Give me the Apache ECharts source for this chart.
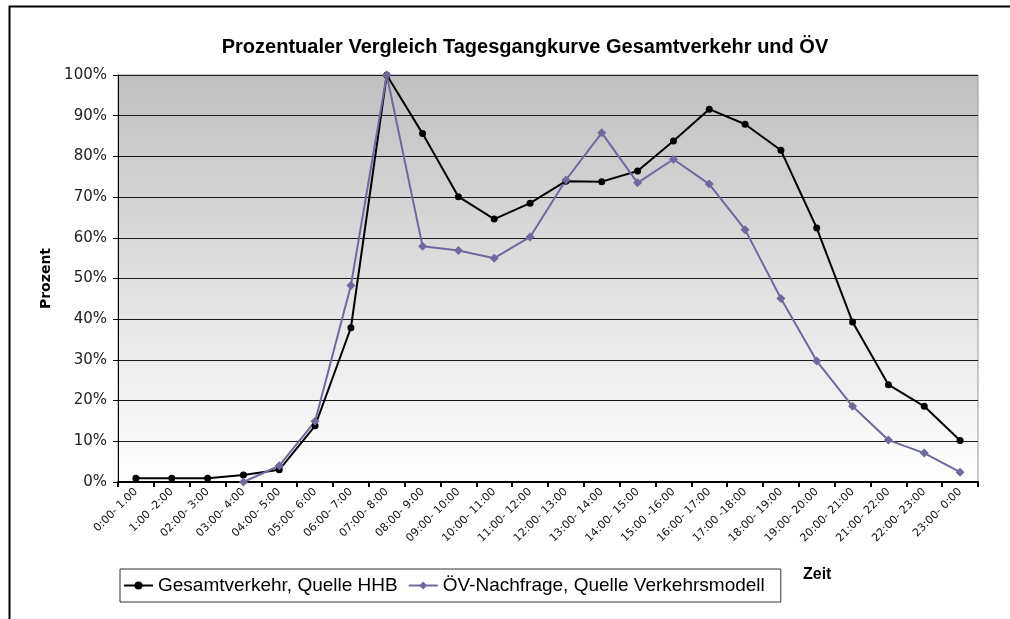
<!DOCTYPE html>
<html>
<head>
<meta charset="UTF-8">
<title>Tagesgangkurve</title>
<script src="https://cdn.jsdelivr.net/npm/echarts@6/dist/echarts.min.js"></script>
</head>
<body style="margin:0;background:#fff;">
	<div id="main" style="width:1010px;height:619px;"></div>
	<script type="text/javascript">
		// Zeitintervalle (Beschriftung wie im Original)
		var zeiten = ['0:00- 1.00','1:00 -2:00','02:00- 3:00','03:00- 4:00','04:00- 5:00','05:00- 6:00',
			'06:00- 7:00','07:00- 8:00','08:00- 9:00','09:00- 10:00','10:00- 11:00','11:00- 12:00',
			'12:00- 13:00','13:00- 14:00','14:00- 15:00','15:00 -16:00','16:00- 17:00','17:00 -18:00',
			'18:00- 19:00','19:00- 20:00','20:00- 21:00','21:00- 22:00','22:00- 23:00','23:00- 0:00'];
		// Anteil in Prozent
		var gesamt = [0.9,0.9,0.9,1.7,3.0,13.8,37.9,100,85.6,70.1,64.6,68.5,
			73.9,73.8,76.4,83.8,91.6,87.9,81.5,62.4,39.3,23.9,18.6,10.2];
		var oev = ['-','-','-',0,4.0,14.9,48.3,100,57.9,56.9,55.0,60.2,
			74.2,85.8,73.5,79.3,73.2,62.0,45.1,29.7,18.6,10.3,7.1,2.4];
		var yTicks = [0,10,20,30,40,50,60,70,80,90,100];

		var myChart = echarts.init(document.getElementById('main'));
		var option = {
			backgroundColor:'#fff',
			animation:false,
			title:{
				text:'Prozentualer Vergleich Tagesgangkurve Gesamtverkehr und ÖV',
				left:520,
				textAlign:'center',
				top:32,
				textStyle:{fontFamily:'Liberation Sans',fontSize:20,fontWeight:'bold',color:'#000'}
			},
			graphic:[
				{type:'rect',left:7,top:4,shape:{width:1100,height:700},
					style:{fill:'none',stroke:'#000',lineWidth:2},silent:true},
				{type:'text',left:803,top:567,
					style:{text:'Zeit',fontFamily:'Liberation Sans',fontSize:16,fontWeight:'bold',fill:'#000'}}
			],
			legend:{
				left:120,
				top:569,
				padding:[7,16,7,3],
				borderColor:'#333',
				borderWidth:1,
				itemWidth:29,
				itemHeight:10,
				itemGap:10,
				textStyle:{fontFamily:'Liberation Sans',fontSize:19,color:'#000'},
				data:['Gesamtverkehr, Quelle HHB','ÖV-Nachfrage, Quelle Verkehrsmodell']
			},
			grid:{
				left:118,
				right:32,
				top:75,
				bottom:137,
				show:true,
				borderColor:'#999',
				borderWidth:1,
				backgroundColor:new echarts.graphic.LinearGradient(0,0,0,1,[
					{offset:0,color:'#c0c0c0'},
					{offset:1,color:'#ffffff'}
				])
			},
			xAxis:{
				type:'category',
				data:zeiten,
				boundaryGap:true,
				axisLine:{lineStyle:{color:'#000',width:2}},
				axisTick:{show:true,length:5,lineStyle:{color:'#000',width:2}},
				axisLabel:{interval:0,rotate:45,fontFamily:'DejaVu Sans',fontSize:11,color:'#111',margin:8},
				splitLine:{show:false}
			},
			yAxis:{
				type:'value',
				min:yTicks[0],
				max:yTicks[yTicks.length-1],
				interval:10,
				name:'Prozent',
				nameLocation:'middle',
				nameRotate:90,
				nameGap:64,
				nameTextStyle:{fontFamily:'DejaVu Sans',fontSize:14,fontWeight:'bold',color:'#000'},
				axisLine:{show:true,lineStyle:{color:'#000',width:1}},
				axisTick:{show:true,length:5,inside:false,lineStyle:{color:'#000'}},
				axisLabel:{formatter:'{value}%',fontFamily:'DejaVu Sans',fontSize:15,color:'#222',margin:11},
				splitLine:{show:true,lineStyle:{color:'#1a1a1a',width:1}}
			},
			series:[
				{
					name:'Gesamtverkehr, Quelle HHB',
					type:'line',
					data:gesamt,
					symbol:'circle',
					symbolSize:7,
					itemStyle:{color:'#000'},
					lineStyle:{color:'#000',width:2}
				},
				{
					name:'ÖV-Nachfrage, Quelle Verkehrsmodell',
					type:'line',
					data:oev,
					symbol:'diamond',
					symbolSize:9,
					itemStyle:{color:'#6e6a9e'},
					lineStyle:{color:'#6e6a9e',width:2}
				}
			]
		};
		myChart.setOption(option);
	</script>
</body>
</html>
